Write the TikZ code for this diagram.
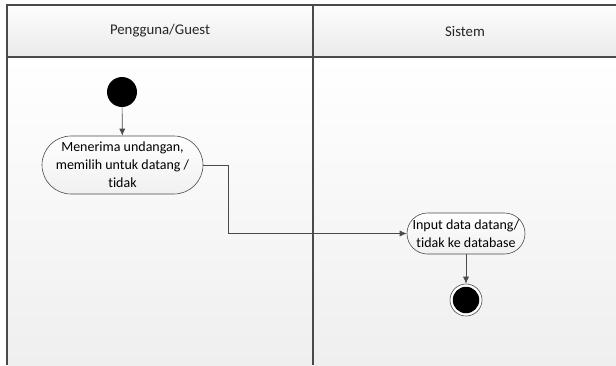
\documentclass[tikz,border=0pt]{standalone}
\usepackage{fontspec}
\setmainfont{Carlito}[Ligatures=NoCommon]
\usetikzlibrary{arrows.meta,shadings}
\definecolor{lineclr}{HTML}{4A4A4A}
\definecolor{bgtop}{HTML}{FFFFFF}
\definecolor{bgbot}{HTML}{EFEFEF}
\definecolor{hdtop}{HTML}{FDFDFD}
\definecolor{hdbot}{HTML}{EAEAEA}
\tikzset{
  lane/.style={draw=lineclr, line width=1.1pt},
  act/.style={draw=lineclr, line width=0.6pt, rounded corners=#1, top color=white, bottom color=hdbot!70,
     align=center, font=\fontsize{14}{18}\selectfont, inner sep=0pt},
  flow/.style={draw=lineclr, line width=0.7pt, -{Latex[length=7pt,width=6pt]}},
  startnode/.style={circle, fill=black, minimum size=30pt, inner sep=0pt},
  endnode/.style={circle, draw=lineclr, line width=0.6pt, fill=white, minimum size=32pt, inner sep=0pt},
  endin/.style={circle, fill=black, minimum size=26.5pt, inner sep=0pt},
  hdr/.style={font=\fontsize{14.8}{17}\selectfont, text=black!85}
}
\begin{document}
\begin{tikzpicture}[x=1pt,y=-1pt]
\useasboundingbox (0,0) rectangle (616,365);
% background
\shade[top color=bgtop, bottom color=bgbot] (7,57) rectangle (616,365);
\shade[top color=hdtop, bottom color=hdbot] (7,5) rectangle (616,57);
% lane frame
\draw[lane] (7,365) -- (7,5) -- (616,5);
\draw[lane] (7,57) -- (616,57);
\draw[lane] (313,5) -- (313,365);
% headers
\node[hdr] (h1) at (160,31) {Pengguna/Guest};
\node[hdr] (h2) at (465,31) {Sistem};
% nodes
\node[startnode] (start) at (122,92) {};
\node[act=29pt, minimum width=161pt, minimum height=58pt] (a1) at (122.5,165)
  {Menerima undangan,\\memilih untuk datang /\\tidak};
\node[act=20.5pt, minimum width=118pt, minimum height=41pt] (a2) at (466,233.5)
  {Input data datang/\\tidak ke database};
\node[endnode] (end) at (466,300) {};
\node[endin] (endi) at (end) {};
% connectors
\draw[flow] (start) -- (a1);
\draw[flow] (a1.east) -- (228,165) |- (a2.west);
\draw[flow] (a2) -- (end);
\end{tikzpicture}
\end{document}
